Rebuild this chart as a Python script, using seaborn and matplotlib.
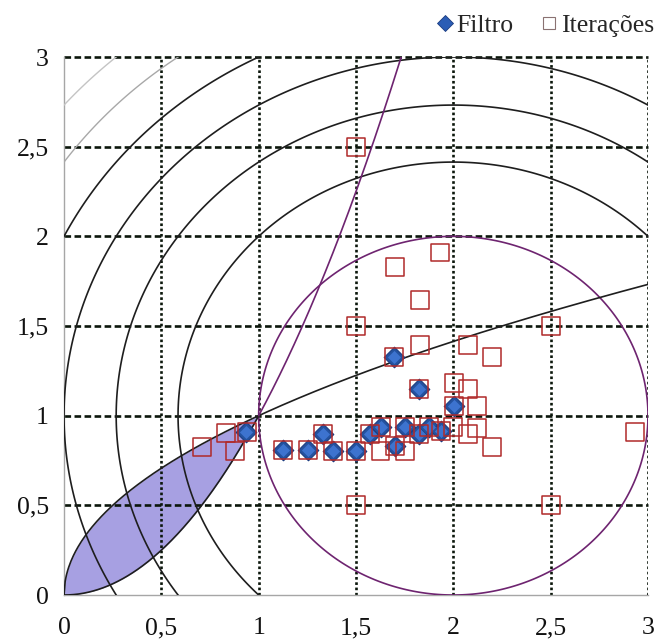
import numpy as np
import pandas as pd
import matplotlib
matplotlib.use("Agg")
import matplotlib.pyplot as plt
from matplotlib.lines import Line2D
import seaborn as sns

# Accepted iterates (filter entries)
filtro_x = [0.935, 1.126, 1.255, 1.332, 1.380, 1.500, 1.572, 1.627, 1.700,
            1.751, 1.825, 1.877, 1.935, 1.695, 1.825, 2.003]
filtro_y = [0.911, 0.809, 0.809, 0.898, 0.805, 0.805, 0.898, 0.935, 0.831,
            0.935, 0.898, 0.935, 0.916, 1.326, 1.147, 1.054]

# All trial points of the iterations
iter_x = [0.707, 0.832, 0.878, 0.938, 1.126, 1.255, 1.332, 1.380, 1.500,
          1.572, 1.627, 1.626, 1.700, 1.751, 1.751, 1.825, 1.877, 1.935,
          2.000, 2.077, 2.123, 2.197, 2.123, 2.003, 2.077, 2.003, 1.825,
          1.695, 2.197, 1.828, 2.077, 1.828, 1.700, 1.930,
          1.500, 1.500, 1.500, 2.500, 2.500, 2.933]
iter_y = [0.827, 0.902, 0.805, 0.911, 0.809, 0.809, 0.898, 0.805, 0.805,
          0.898, 0.935, 0.805, 0.831, 0.805, 0.935, 0.898, 0.935, 0.916,
          0.939, 0.898, 0.930, 0.827, 1.054, 1.054, 1.147, 1.181, 1.147,
          1.326, 1.326, 1.394, 1.394, 1.645, 1.830, 1.910,
          2.500, 1.500, 0.500, 1.500, 0.500, 0.911]

tick_values = [0, 0.5, 1, 1.5, 2, 2.5, 3]
tick_labels = ["0", "0,5", "1", "1,5", "2", "2,5", "3"]

# Objective f(x, y) = (x - 2)^2 + (y - 1)^2 and its level sets
obj_center = (2.0, 1.0)
level_region = [1]
levels_dark = [2, 3, 4, 5]
levels_light = [6, 7]

sns.set_style("white")
plt.rcParams["font.family"] = ["Liberation Serif", "DejaVu Serif"]

fig = plt.figure(figsize=(6.54, 6.40), dpi=100)
ax = fig.add_axes([0.0979, 0.0703, 0.8929, 0.8406])

# Feasible lens between y = x^2 and y = sqrt(x)
xl = np.linspace(0, 1, 300)
ax.fill_between(xl, xl ** 2, np.sqrt(xl), color="#A7A0E2", lw=0, zorder=1)

# Dashed grid
grid_col = "#0b160b"
ax.hlines(tick_values[1:], 0, 3, colors=grid_col, linewidth=1.9,
          linestyles=(0, (2.5, 1.3)), zorder=2, clip_on=False)
ax.vlines(tick_values[1:], 0, 3, colors=grid_col, linewidth=1.9,
          linestyles=(0, (1, 1)), zorder=2)

# Objective contours
gx = np.linspace(-0.05, 3.05, 700)
X, Y = np.meshgrid(gx, gx)
F = (X - obj_center[0]) ** 2 + (Y - obj_center[1]) ** 2
ax.contour(X, Y, F, levels=levels_dark, colors="#1e1e1e", linewidths=1.2, zorder=3)
ax.contour(X, Y, F, levels=levels_light, colors=["#a8a8a8", "#c4c4c4"],
           linewidths=1.0, zorder=3)
ax.contour(X, Y, F, levels=level_region, colors="#6e2470", linewidths=1.2, zorder=3)

# Constraint curves
xs = np.linspace(0, 3, 500)
sns.lineplot(x=xs, y=np.sqrt(xs), color="#1e1e1e", lw=1.2, ax=ax,
             sort=False, estimator=None, zorder=3)
xa = np.linspace(0, 1, 200)
sns.lineplot(x=xa, y=xa ** 2, color="#1e1e1e", lw=1.2, ax=ax,
             sort=False, estimator=None, zorder=3)
xb = np.linspace(1, np.sqrt(3.2), 200)
sns.lineplot(x=xb, y=xb ** 2, color="#6e2470", lw=1.2, ax=ax,
             sort=False, estimator=None, zorder=3)

# Points: shaded diamonds for the filter, hollow squares for the iterations
df_f = pd.DataFrame({"x": filtro_x, "y": filtro_y})
df_i = pd.DataFrame({"x": iter_x, "y": iter_y})
sns.scatterplot(data=df_f, x="x", y="y", marker="D", s=110, color="#24529F",
                edgecolor="#1b3c80", linewidth=0.8, ax=ax, zorder=4, legend=False)
sns.scatterplot(data=df_f, x="x", y="y", marker="D", s=45, color="#3D73CF",
                linewidth=0, ax=ax, zorder=4.1, legend=False)
sns.scatterplot(data=df_i, x="x", y="y", marker="s", s=165, facecolor="none",
                edgecolor="#B02A2A", linewidth=1.1, ax=ax, zorder=5, legend=False)

ax.set_xlim(0, 3)
ax.set_ylim(0, 3)
ax.set_xticks(tick_values)
ax.set_xticklabels(tick_labels)
ax.set_yticks(tick_values)
ax.set_yticklabels(tick_labels)
ax.set_xlabel("")
ax.set_ylabel("")
for side in ["top", "right"]:
    ax.spines[side].set_visible(False)
for side in ["left", "bottom"]:
    ax.spines[side].set_color("#a6a6a6")
    ax.spines[side].set_linewidth(1.0)
ax.tick_params(axis="both", direction="out", length=7, width=1,
               color="#a6a6a6", labelsize=18.5, labelcolor="#111111")
ax.tick_params(axis="x", pad=9)
ax.tick_params(axis="y", pad=4)

handles = [
    Line2D([], [], marker="D", linestyle="none", markersize=8,
           markerfacecolor="#2B5DB5", markeredgecolor="#1b3c80", markeredgewidth=0.6),
    Line2D([], [], marker="s", linestyle="none", markersize=9,
           markerfacecolor="white", markeredgecolor="#8a7272", markeredgewidth=0.8),
]
fig.legend(handles, ["Filtro", "Iterações"], loc="center right",
           bbox_to_anchor=(1.0, 0.960), ncol=2, frameon=False, fontsize=18.5,
           handlelength=0.6, handletextpad=0.15, columnspacing=1.1,
           borderpad=0.0, borderaxespad=0.0)

fig.savefig("out.png", dpi=100)
